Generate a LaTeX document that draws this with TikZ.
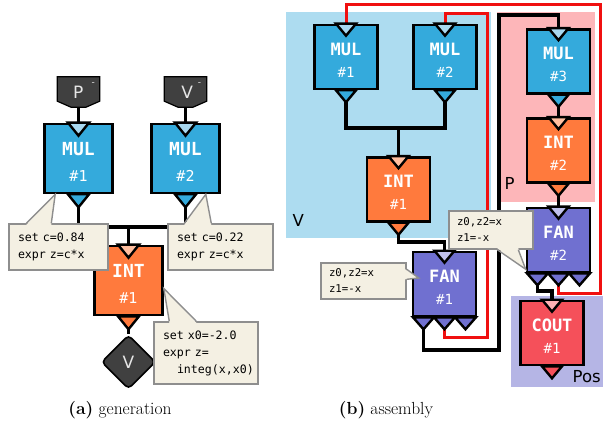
\documentclass[tikz,border=0pt]{standalone}
\usepackage{fontspec}
\setsansfont{DejaVu Sans}
\setmonofont{DejaVu Sans Mono}
\usetikzlibrary{calc,shapes.geometric}
\pgfdeclarelayer{back}
\pgfdeclarelayer{mid}
\pgfsetlayers{back,mid,main}

\definecolor{mulc}{HTML}{34AADC}
\definecolor{mull}{HTML}{A8D8F0}
\definecolor{intc}{HTML}{FF7A3D}
\definecolor{intl}{HTML}{FFBFA0}
\definecolor{fanc}{HTML}{7070D0}
\definecolor{fanl}{HTML}{C0C0EC}
\definecolor{coutc}{HTML}{F5505A}
\definecolor{coutl}{HTML}{FFB0B4}
\definecolor{darkc}{HTML}{404040}
\definecolor{darktxt}{HTML}{E6E6E6}
\definecolor{regV}{HTML}{ADDCF0}
\definecolor{regP}{HTML}{FDB6B9}
\definecolor{regPos}{HTML}{B5B5E5}
\definecolor{notef}{HTML}{F4F0E3}
\definecolor{notel}{HTML}{8E8E8E}
\definecolor{wred}{HTML}{F01010}

\newcommand\panelL{\def\bw{68}\def\bh{69}\def\tw{10.5}\def\trh{13}\def\tdy{-9.5}\def\ndy{17.5}\def\tfs{18}\def\nfs{15}}
\newcommand\panelR{\def\bw{63}\def\bh{64}\def\tw{10}\def\trh{12}\def\tdy{-8}\def\ndy{15}\def\tfs{17}\def\nfs{14}}

\newcommand\mkbase[6]{%
  \node[blkbox, fill=#3] (#1) at (#2) {};
  \node[blktitle] (#1-t) at ($(#1.center)+(0,\tdy)$) {#5};
  \node[blknum] (#1-n) at ($(#1.center)+(0,\ndy)$) {#6};
  \draw[tri, fill=#4] ($(#1.north)+(-\tw,0)$) -- ($(#1.north)+(0,\trh)$) -- ($(#1.north)+(\tw,0)$) -- cycle;
}
\newcommand\mkout[2]{%
  \draw[tri, fill=#2] ($(#1.south)+(-\tw,0)$) -- ($(#1.south)+(0,\trh)$) -- ($(#1.south)+(\tw,0)$) -- cycle;
  \coordinate (#1-o) at ($(#1.south)+(0,\trh)$);
}
\newcommand\mkfanout[2]{%
  \pgfmathsetmacro\fanoff{\bw/3}\pgfmathsetmacro\fanhw{\bw/6}%
  \foreach \k/\d in {1/-1,2/0,3/1}{%
    \draw[tri, fill=#2] ($(#1.south)+(\d*\fanoff-\fanhw,0)$) -- ($(#1.south)+(\d*\fanoff,\trh)$) -- ($(#1.south)+(\d*\fanoff+\fanhw,0)$) -- cycle;
    \coordinate (#1-o\k) at ($(#1.south)+(\d*\fanoff,\trh)$);
  }%
}
\newcommand\ptr[4]{%
  \fill[notef] ($#1+#4$) -- ($#2$) -- ($#3+#4$) -- cycle;
  \draw[noteline] ($#1$) -- ($#2$) -- ($#3$);
}

\begin{document}
\begin{tikzpicture}[x=1pt,y=-1pt,
  blkbox/.style={draw=black, line width=2.6pt, minimum width=\bw, minimum height=\bh, inner sep=0pt},
  blktitle/.style={text=white, font=\fontsize{\tfs}{\tfs}\selectfont\ttfamily\bfseries, inner sep=0pt},
  blknum/.style={text=white, font=\fontsize{\nfs}{\nfs}\selectfont\ttfamily, inner sep=0pt},
  tri/.style={draw=black, line width=2.4pt, line join=miter},
  wire/.style={draw=black, line width=3.2pt, line join=miter},
  rwire/.style={draw=wred, line width=3pt, line join=miter},
  note/.style={draw=notel, fill=notef, line width=1.4pt, align=left, inner ysep=3pt},
  noteline/.style={draw=notel, line width=1.4pt, line join=miter},
  notefontL/.style={font=\fontsize{11.6}{17}\selectfont\ttfamily},
  notefontR/.style={font=\fontsize{10.7}{16}\selectfont\ttfamily},
  inbox/.style={minimum width=42, minimum height=30, inner sep=0pt},
  inshape/.style={draw=black, fill=darkc, line width=1.2pt, line join=miter},
  intext/.style={anchor=base, text=darktxt, font=\fontsize{17}{17}\selectfont\sffamily, inner sep=0pt},
  supdash/.style={text=darktxt, font=\fontsize{9}{9}\selectfont\sffamily, inner sep=0pt},
  vdiamond/.style={diamond, draw=black, fill=darkc, line width=1.6pt, minimum width=54, minimum height=54, inner sep=0pt, rounded corners=4pt, text=darktxt, font=\fontsize{17}{17}\selectfont\sffamily},
  region/.style={anchor=north west, inner sep=0pt, draw=none},
  rlabel/.style={anchor=base west, font=\fontsize{16.5}{16.5}\selectfont\sffamily, inner sep=0pt},
  caption/.style={font=\fontsize{17.5}{20}\selectfont\rmfamily, inner sep=0pt}
]
\useasboundingbox (0,0) rectangle (603,425);

% ---------- group regions ----------
\begin{pgfonlayer}{back}
\node[region, fill=regV, minimum width=205, minimum height=226] (rV) at (286,12) {};
\node[region, fill=regP, minimum width=98, minimum height=190] (rP) at (497,12) {};
\node[region, fill=regPos, minimum width=95, minimum height=91] (rPos) at (511,296) {};
\node[rlabel] (lV) at (292.5,226) {V};
\node[rlabel] (lP) at (504.5,190) {P};
\node[rlabel] (lPos) at (572.5,382) {Pos};
\end{pgfonlayer}

% ---------- left panel ----------
\panelL
\node[inbox] (pin) at (78.5,92) {};
\draw[inshape] (pin.north west) -- (pin.north east) -- ($(pin.south east)+(0,-6)$) -- ($(pin.south)+(7.5,0)$) -- ($(pin.south)+(-7.5,0)$) -- ($(pin.south west)+(0,-6)$) -- cycle;
\node[intext] (pin-t) at (78.3,99) {P};
\node[supdash] (pin-s) at (93.3,84) {-};

\node[inbox] (vin) at (185.5,92) {};
\draw[inshape] (vin.north west) -- (vin.north east) -- ($(vin.south east)+(0,-6)$) -- ($(vin.south)+(7.5,0)$) -- ($(vin.south)+(-7.5,0)$) -- ($(vin.south west)+(0,-6)$) -- cycle;
\node[intext] (vin-t) at (187.2,99) {V};
\node[supdash] (vin-s) at (199.5,84) {-};

\mkbase{mul1}{78.5,158.5}{mulc}{mull}{MUL}{\#1}
\mkout{mul1}{mulc}
\mkbase{mul2}{185.5,158.5}{mulc}{mull}{MUL}{\#2}
\mkout{mul2}{mulc}
\mkbase{int1}{128.5,280.5}{intc}{intl}{INT}{\#1}
\mkout{int1}{intc}
\node[vdiamond] (vdia) at (128.5,362) {V};

% ---------- right panel ----------
\panelR
\mkbase{mul1r}{346,57}{mulc}{mull}{MUL}{\#1}
\mkout{mul1r}{mulc}
\mkbase{mul2r}{445,57}{mulc}{mull}{MUL}{\#2}
\mkout{mul2r}{mulc}
\mkbase{mul3r}{558.5,61.5}{mulc}{mull}{MUL}{\#3}
\mkout{mul3r}{mulc}
\mkbase{int1r}{398.5,189.5}{intc}{intl}{INT}{\#1}
\mkout{int1r}{intc}
\mkbase{int2r}{558.5,150.5}{intc}{intl}{INT}{\#2}
\mkout{int2r}{intc}
\mkbase{fan1r}{444.5,284}{fanc}{fanl}{FAN}{\#1}
\mkfanout{fan1r}{fanc}
\mkbase{fan2r}{558.5,240}{fanc}{fanl}{FAN}{\#2}
\mkfanout{fan2r}{fanc}
\mkbase{coutr}{552,333}{coutc}{coutl}{COUT}{\#1}
\mkout{coutr}{coutc}

% ---------- notes ----------
\node[note, notefontL, inner xsep=9pt, text width=81pt, minimum height=46] (n1) at (58.5,247) {set c=0.84\\expr z=c*x};
\ptr{(n1.north west)+(18,0)}{(mul1.south west)+(12,0)}{(n1.north west)+(43,0)}{(0,1.5)}
\node[note, notefontL, inner xsep=9pt, text width=87pt, minimum height=46] (n2) at (220.5,247) {set c=0.22\\expr z=c*x};
\ptr{(n2.north west)+(17,0)}{(mul2.south east)+(-15,0)}{(n2.north west)+(44,0)}{(0,1.5)}
\node[note, notefontL, inner xsep=9pt, text width=86pt, minimum height=62] (n3) at (206,353) {set x0=-2.0\\expr z=\\\hspace*{14pt}integ(x,x0)};
\ptr{(n3.north west)+(16,0)}{(int1.east)+(0,8)}{(n3.north west)+(43,0)}{(0,1.5)}
\node[note, notefontR, inner xsep=8pt, text width=68pt, minimum height=38] (n4) at (491,230) {z0,z2=x\\z1=-x};
\ptr{(n4.south west)+(49,0)}{(fan2r.south west)+(0,-4)}{(n4.south west)+(70,0)}{(0,-1.5)}
\node[note, notefontR, inner xsep=8pt, text width=69pt, minimum height=36] (n5) at (363.5,281) {z0,z2=x\\z1=-x};
\ptr{(n5.north east)+(0,7)}{(fan1r.west)+(7,-6)}{(n5.north east)+(0,17)}{(-1.5,0)}

% ---------- captions ----------
\node[caption] (capa) at (120,410) {\textbf{(a)} generation};
\node[caption] (capb) at (386,410) {\textbf{(b)} assembly};

% ---------- wires ----------
\begin{pgfonlayer}{mid}
\coordinate (busL) at (128.5,227);
\draw[wire] (pin.south) -- (mul1.north);
\draw[wire] (vin.south) -- (mul2.north);
\draw[wire] (mul1-o) |- (busL) -| (mul2-o);
\draw[wire] (busL) -- (int1.north);
\draw[wire] (int1-o) -- (vdia.north);

\coordinate (busR) at (398.5,128);
\draw[wire] (mul1r-o) |- (busR) -| (mul2r-o);
\draw[wire] (busR) -- (int1r.north);
\draw[wire] (int1r-o) |- (fan1r.north |- 0,242) -- (fan1r.north);
\draw[wire] (mul3r-o) -- (int2r.north);
\draw[wire] (int2r-o) -- (fan2r.north);
\draw[wire] (fan1r-o1) |- (499,350) |- (mul3r.north |- 0,15) -- (mul3r.north);
\draw[rwire] (fan1r-o2) |- (487,337) |- (mul2r.north |- 0,14) -- (mul2r.north);
\draw[wire] (fan2r-o1) |- (coutr.north |- 0,291) -- (coutr.north);
\draw[rwire] (fan2r-o2) |- (600,293) |- (mul1r.north |- 0,5) -- (mul1r.north);
\end{pgfonlayer}
\end{tikzpicture}
\end{document}
